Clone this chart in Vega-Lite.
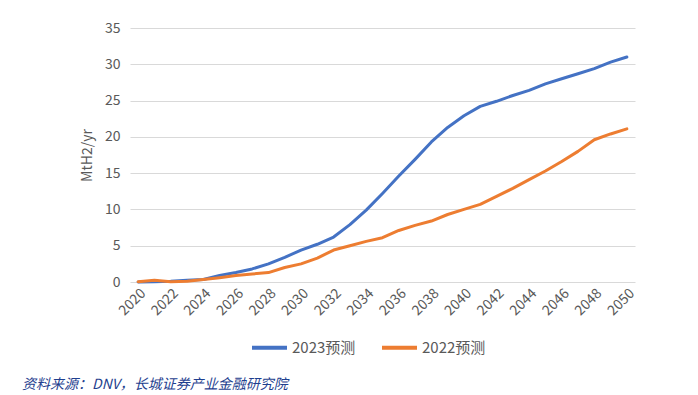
{
  "$schema": "https://vega.github.io/schema/vega-lite/v6.json",
  "autosize": {"type": "none"},
  "width": 505,
  "height": 254,
  "padding": {"left": 130, "top": 28, "right": 63, "bottom": 113},
  "background": "white",
  "title": {
    "text": "资料来源：DNV，长城证券产业金融研究院",
    "orient": "bottom",
    "anchor": "start",
    "frame": "group",
    "dx": -108,
    "offset": 22,
    "font": "Noto Sans CJK SC",
    "fontSize": 14,
    "fontStyle": "italic",
    "fontWeight": "normal",
    "color": "#1f3f8f"
  },
  "config": {
    "view": {"stroke": null},
    "font": "Noto Sans CJK SC",
    "axis": {
      "labelFont": "Noto Sans CJK SC",
      "titleFont": "Noto Sans CJK SC",
      "labelColor": "#595959",
      "titleColor": "#595959",
      "labelFontSize": 14,
      "titleFontSize": 14,
      "titleFontWeight": "normal",
      "gridColor": "#d9d9d9",
      "gridWidth": 1,
      "domain": false,
      "ticks": false
    }
  },
  "data": {
    "values": [
      {"year": 2020, "series": "2023预测", "value": 0},
      {"year": 2021, "series": "2023预测", "value": 0.05},
      {"year": 2022, "series": "2023预测", "value": 0.1},
      {"year": 2023, "series": "2023预测", "value": 0.25},
      {"year": 2024, "series": "2023预测", "value": 0.35},
      {"year": 2025, "series": "2023预测", "value": 0.9},
      {"year": 2026, "series": "2023预测", "value": 1.3},
      {"year": 2027, "series": "2023预测", "value": 1.8},
      {"year": 2028, "series": "2023预测", "value": 2.5},
      {"year": 2029, "series": "2023预测", "value": 3.4},
      {"year": 2030, "series": "2023预测", "value": 4.4},
      {"year": 2031, "series": "2023预测", "value": 5.2},
      {"year": 2032, "series": "2023预测", "value": 6.2},
      {"year": 2033, "series": "2023预测", "value": 7.9},
      {"year": 2034, "series": "2023预测", "value": 9.9},
      {"year": 2035, "series": "2023预测", "value": 12.2},
      {"year": 2036, "series": "2023预测", "value": 14.6},
      {"year": 2037, "series": "2023预测", "value": 16.9},
      {"year": 2038, "series": "2023预测", "value": 19.3},
      {"year": 2039, "series": "2023预测", "value": 21.3},
      {"year": 2040, "series": "2023预测", "value": 22.9},
      {"year": 2041, "series": "2023预测", "value": 24.2},
      {"year": 2042, "series": "2023预测", "value": 24.9},
      {"year": 2043, "series": "2023预测", "value": 25.7},
      {"year": 2044, "series": "2023预测", "value": 26.4},
      {"year": 2045, "series": "2023预测", "value": 27.3},
      {"year": 2046, "series": "2023预测", "value": 28.0},
      {"year": 2047, "series": "2023预测", "value": 28.7},
      {"year": 2048, "series": "2023预测", "value": 29.4},
      {"year": 2049, "series": "2023预测", "value": 30.3},
      {"year": 2050, "series": "2023预测", "value": 31.0},
      {"year": 2020, "series": "2022预测", "value": 0.05},
      {"year": 2021, "series": "2022预测", "value": 0.25},
      {"year": 2022, "series": "2022预测", "value": 0.05},
      {"year": 2023, "series": "2022预测", "value": 0.1},
      {"year": 2024, "series": "2022预测", "value": 0.35},
      {"year": 2025, "series": "2022预测", "value": 0.6},
      {"year": 2026, "series": "2022预测", "value": 0.9},
      {"year": 2027, "series": "2022预测", "value": 1.1},
      {"year": 2028, "series": "2022预测", "value": 1.3},
      {"year": 2029, "series": "2022预测", "value": 2.0},
      {"year": 2030, "series": "2022预测", "value": 2.5},
      {"year": 2031, "series": "2022预测", "value": 3.3},
      {"year": 2032, "series": "2022预测", "value": 4.4},
      {"year": 2033, "series": "2022预测", "value": 5.0},
      {"year": 2034, "series": "2022预测", "value": 5.6},
      {"year": 2035, "series": "2022预测", "value": 6.1},
      {"year": 2036, "series": "2022预测", "value": 7.1},
      {"year": 2037, "series": "2022预测", "value": 7.8},
      {"year": 2038, "series": "2022预测", "value": 8.4},
      {"year": 2039, "series": "2022预测", "value": 9.3},
      {"year": 2040, "series": "2022预测", "value": 10.0},
      {"year": 2041, "series": "2022预测", "value": 10.7},
      {"year": 2042, "series": "2022预测", "value": 11.8},
      {"year": 2043, "series": "2022预测", "value": 12.9},
      {"year": 2044, "series": "2022预测", "value": 14.1},
      {"year": 2045, "series": "2022预测", "value": 15.3},
      {"year": 2046, "series": "2022预测", "value": 16.6},
      {"year": 2047, "series": "2022预测", "value": 18.0},
      {"year": 2048, "series": "2022预测", "value": 19.6},
      {"year": 2049, "series": "2022预测", "value": 20.4},
      {"year": 2050, "series": "2022预测", "value": 21.1}
    ]
  },
  "mark": {"type": "line", "strokeWidth": 3, "strokeCap": "round", "strokeJoin": "round"},
  "encoding": {
    "x": {
      "field": "year",
      "type": "ordinal",
      "scale": {"type": "point", "padding": 0.5},
      "axis": {
        "title": null,
        "grid": false,
        "labelAngle": -45,
        "labelPadding": 4,
        "values": [2020, 2022, 2024, 2026, 2028, 2030, 2032, 2034, 2036, 2038, 2040, 2042, 2044, 2046, 2048, 2050]
      }
    },
    "y": {
      "field": "value",
      "type": "quantitative",
      "scale": {"domain": [0, 35], "nice": false},
      "axis": {
        "title": "MtH2/yr",
        "values": [0, 5, 10, 15, 20, 25, 30, 35],
        "labelPadding": 10,
        "titlePadding": 10
      }
    },
    "color": {
      "field": "series",
      "type": "nominal",
      "sort": ["2023预测", "2022预测"],
      "scale": {"domain": ["2023预测", "2022预测"], "range": ["#4472C4", "#ED7D31"]},
      "legend": {
        "title": null,
        "orient": "none",
        "direction": "horizontal",
        "legendX": 120,
        "legendY": 300,
        "symbolType": "stroke",
        "symbolStrokeWidth": 4,
        "symbolSize": 1225,
        "labelFont": "Noto Sans CJK SC",
        "labelFontSize": 15,
        "labelColor": "#595959",
        "labelOffset": 3,
        "columnPadding": 18
      }
    }
  }
}
